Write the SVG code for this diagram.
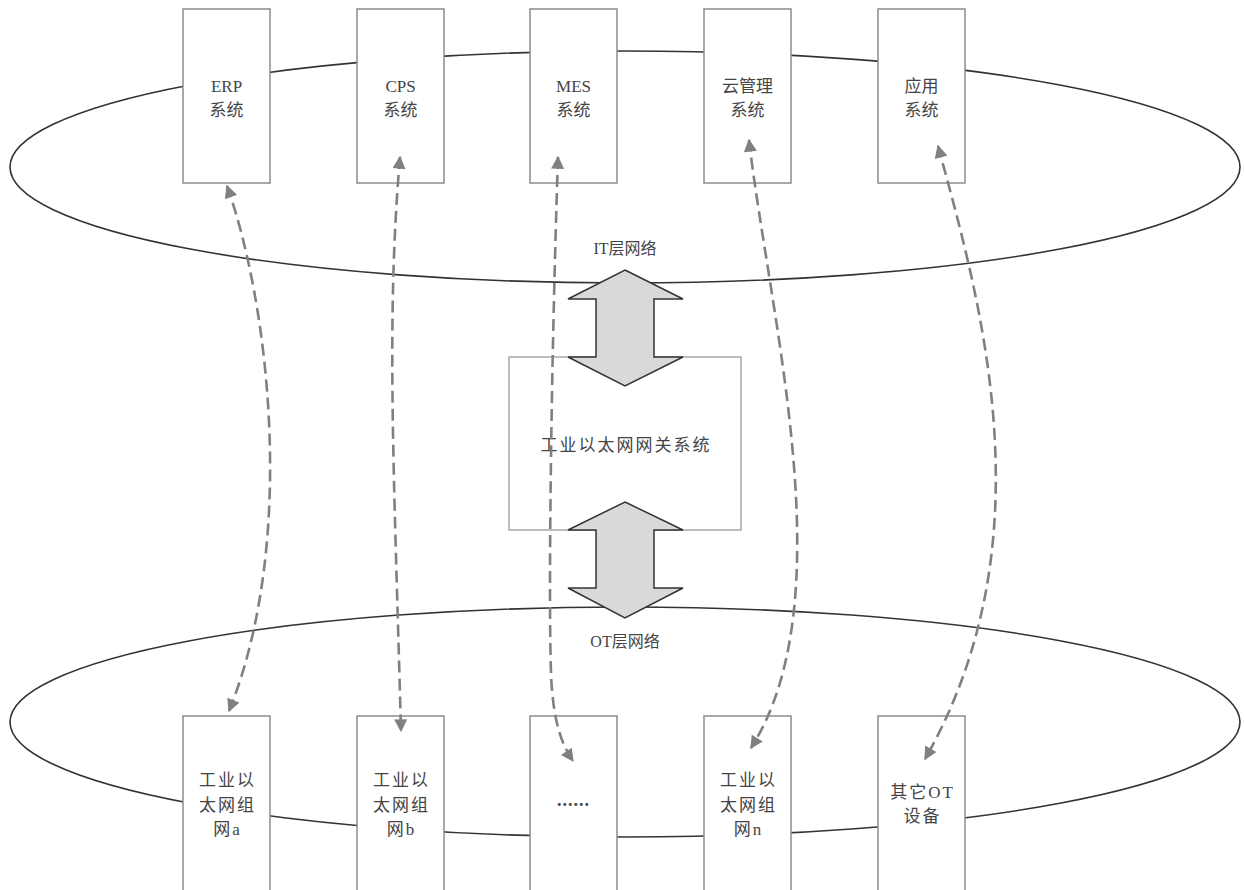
<svg xmlns="http://www.w3.org/2000/svg" width="1244" height="890" viewBox="0 0 1244 890">
<style>
.ell{fill:none;stroke:#333;stroke-width:1.6}
.box{fill:#fff;stroke:#8c8c8c;stroke-width:1.5}
.gw{fill:#fff;stroke:#999;stroke-width:1.3}
.dbl{fill:#d9d9d9;stroke:#333;stroke-width:1.5;stroke-linejoin:miter}
.lnk{fill:none;stroke:#808080;stroke-width:2.6;stroke-dasharray:12 6;marker-start:url(#ah);marker-end:url(#ah)}
text{font-family:"Liberation Serif","Noto Sans CJK SC",serif;font-size:16px;fill:#444;text-anchor:middle}
.top{font-size:17px}
.big{font-size:17px;letter-spacing:2px}
.dots{font-size:18px;letter-spacing:1px;font-weight:bold}
</style>
<defs>
<marker id="ah" viewBox="0 0 10 10" refX="9" refY="5" markerWidth="15" markerHeight="13" markerUnits="userSpaceOnUse" orient="auto-start-reverse">
<path d="M0,0 L10,5 L0,10 z" fill="#808080"/>
</marker>
</defs>

<g id="networks">
<ellipse id="it-net" class="ell" cx="625" cy="167" rx="615" ry="116"/>
<ellipse id="ot-net" class="ell" cx="625" cy="722" rx="615" ry="115"/>
<text x="625" y="254">IT层网络</text>
<text x="625" y="647">OT层网络</text>
</g>

<g id="erp"><rect class="box" x="183" y="9" width="87" height="174"/><text class="top" x="226.5" y="92">ERP</text><text class="top" x="226.5" y="116">系统</text></g>
<g id="cps"><rect class="box" x="357" y="9" width="87" height="174"/><text class="top" x="400.5" y="92">CPS</text><text class="top" x="400.5" y="116">系统</text></g>
<g id="mes"><rect class="box" x="530" y="9" width="87" height="174"/><text class="top" x="573.5" y="92">MES</text><text class="top" x="573.5" y="116">系统</text></g>
<g id="cloud"><rect class="box" x="704" y="9" width="87" height="174"/><text class="top" x="747.5" y="92">云管理</text><text class="top" x="747.5" y="116">系统</text></g>
<g id="app"><rect class="box" x="878" y="9" width="87" height="174"/><text class="top" x="921.5" y="92">应用</text><text class="top" x="921.5" y="116">系统</text></g>

<g id="net-a"><rect class="box" x="183" y="716" width="87" height="180"/><text class="big" x="227.5" y="786">工业以</text><text class="big" x="227.5" y="811">太网组</text><text class="big" x="227.5" y="835">网a</text></g>
<g id="net-b"><rect class="box" x="357" y="716" width="87" height="180"/><text class="big" x="401.5" y="786">工业以</text><text class="big" x="401.5" y="811">太网组</text><text class="big" x="401.5" y="835">网b</text></g>
<g id="net-more"><rect class="box" x="530" y="716" width="87" height="180"/><text class="dots" x="573.5" y="806">......</text></g>
<g id="net-n"><rect class="box" x="704" y="716" width="87" height="180"/><text class="big" x="748.5" y="786">工业以</text><text class="big" x="748.5" y="811">太网组</text><text class="big" x="748.5" y="835">网n</text></g>
<g id="other-ot"><rect class="box" x="878" y="716" width="87" height="180"/><text class="big" x="922.5" y="798">其它OT</text><text class="big" x="922.5" y="822">设备</text></g>

<g id="gateway">
<rect class="gw" x="509" y="357" width="232" height="173"/>
<text class="big" x="626" y="451">工业以太网网关系统</text>
</g>

<g id="gateway-arrows">
<polygon class="dbl" points="625,270 683,299 654,299 654,357 683,357 625,386 568,357 596,357 596,299 568,299"/>
<polygon class="dbl" points="625,502 683,530 654,530 654,588 683,588 625,618 568,588 596,588 596,530 568,530"/>
</g>

<g id="connectors">
<path class="lnk" d="M227,186 C268,300 298,540 229,711"/>
<path class="lnk" d="M400,157 C386,320 394,470 401,731"/>
<path class="lnk" d="M558,157 C550,400 548,650 552,690 C555,725 562,745 573,761"/>
<path class="lnk" d="M749,140 C770,320 845,600 751,748"/>
<path class="lnk" d="M938,146 C980,300 1050,540 925,759"/>
</g>
</svg>
